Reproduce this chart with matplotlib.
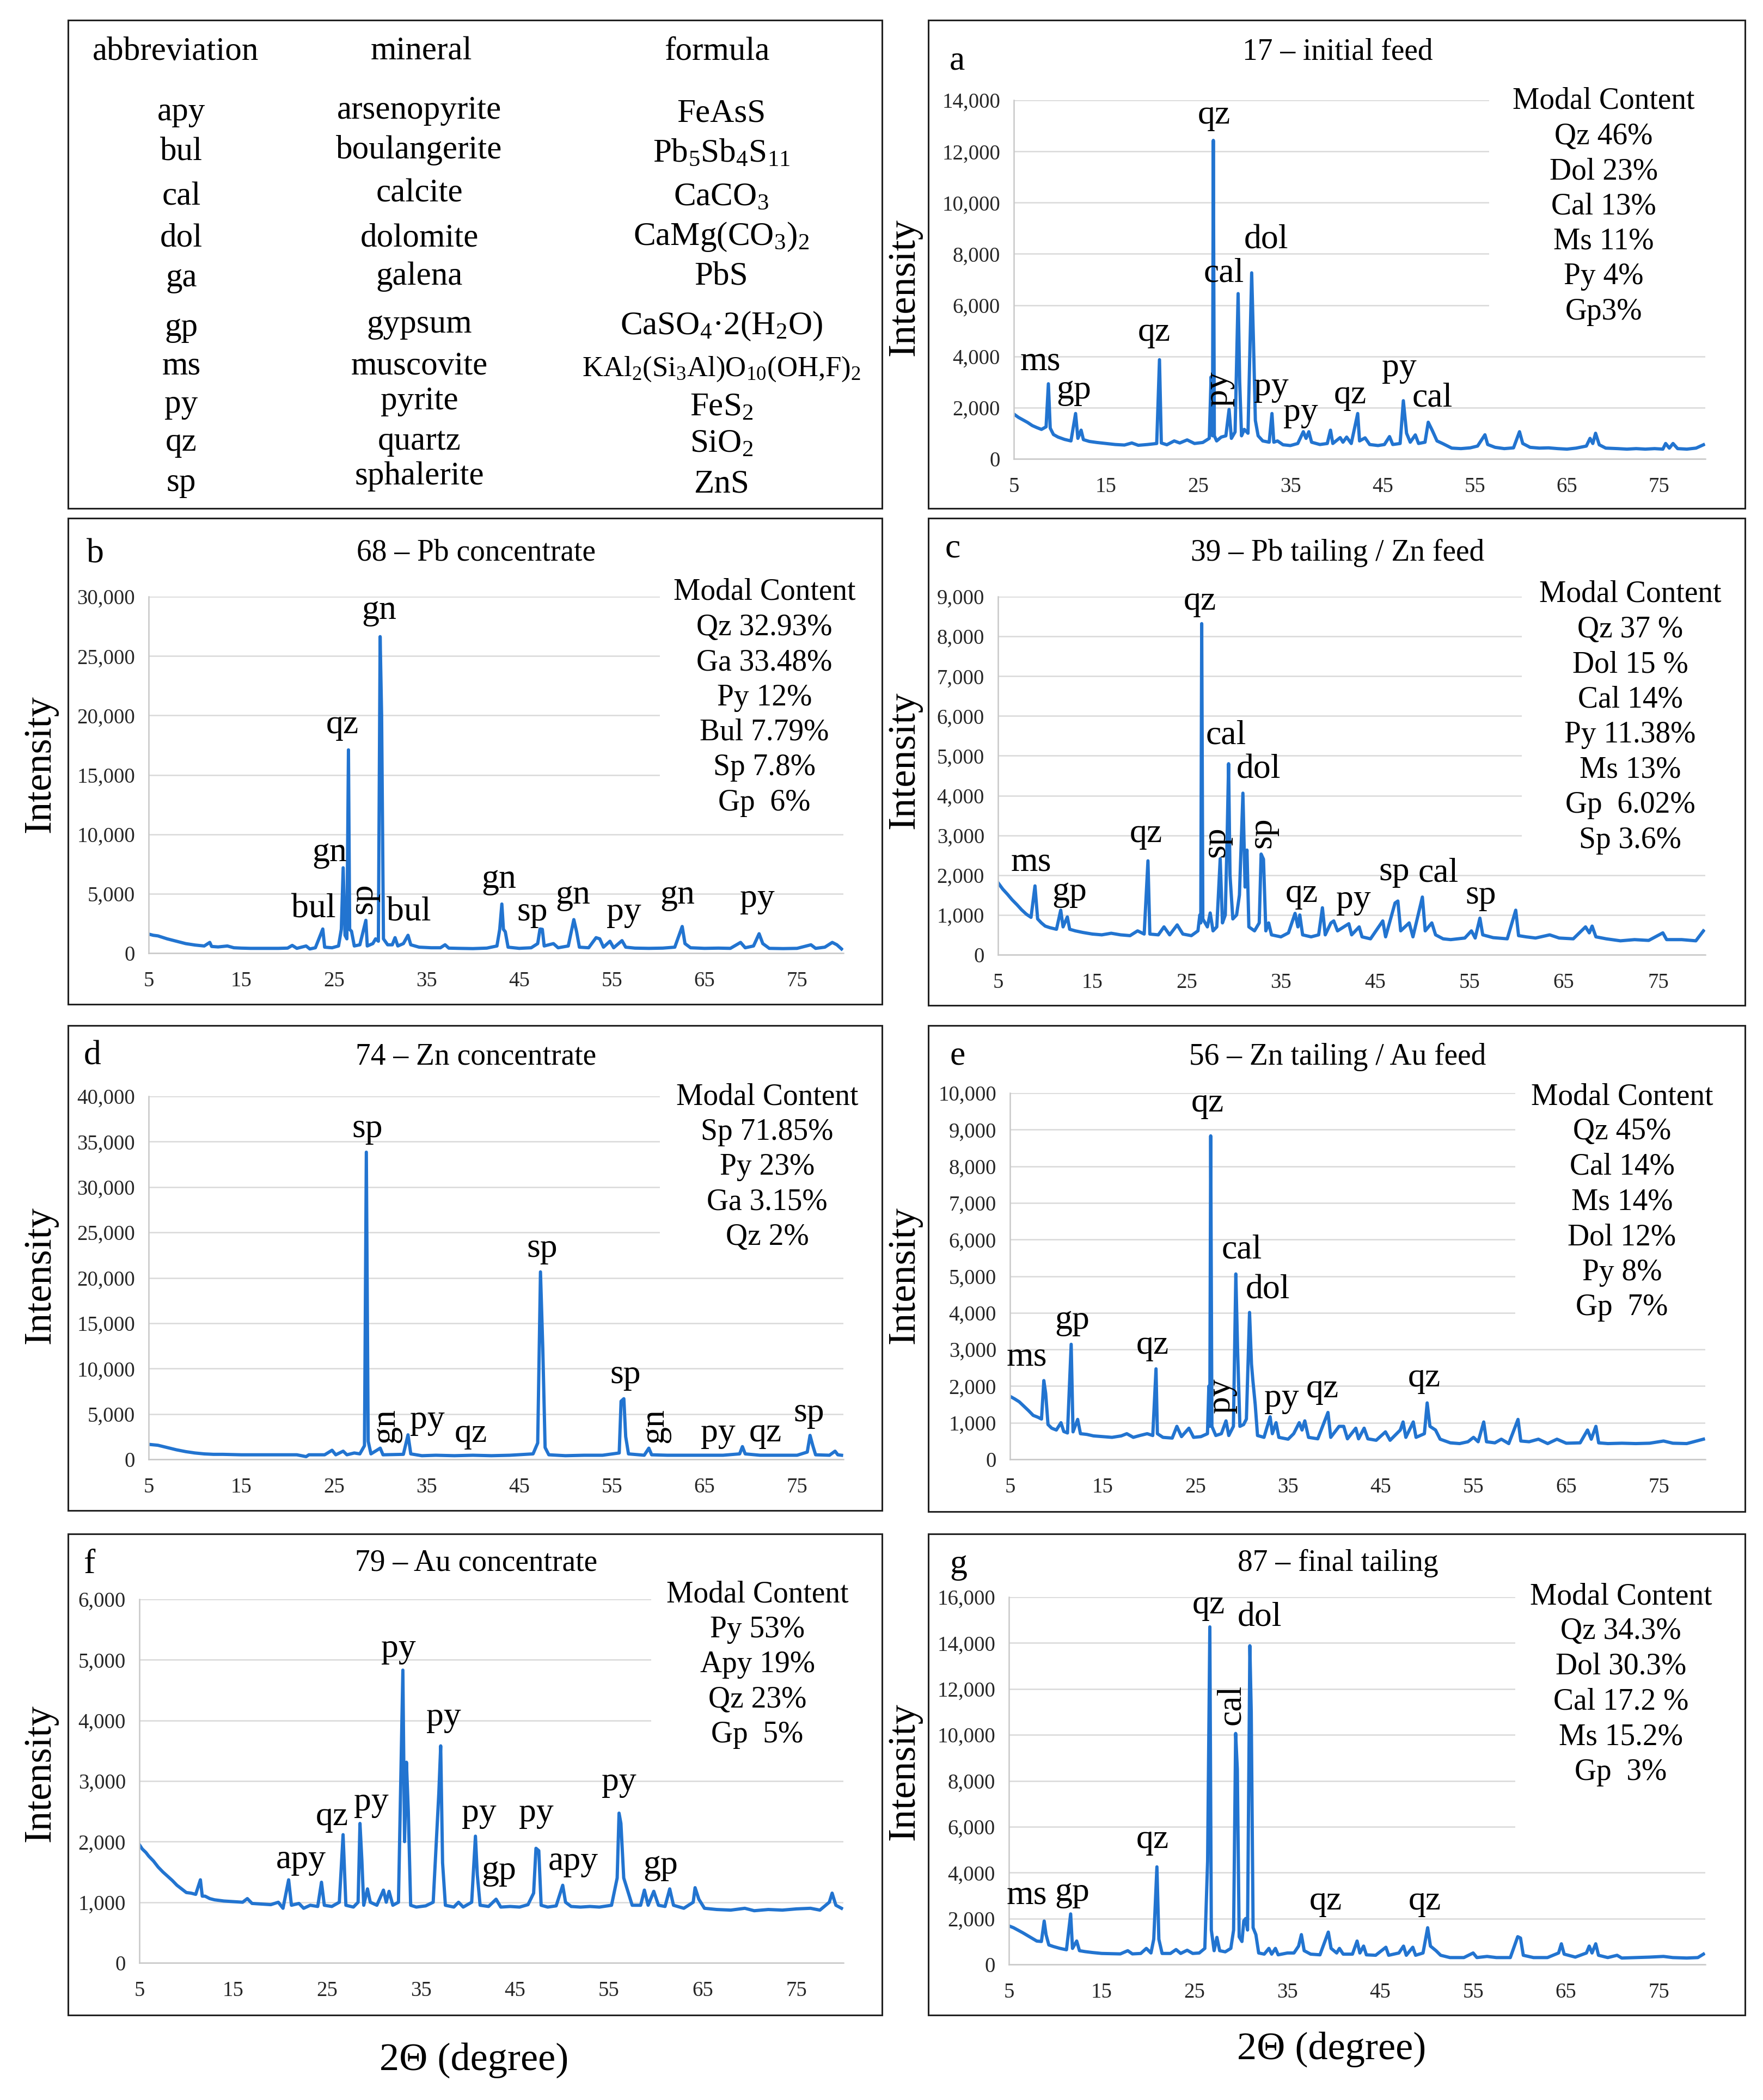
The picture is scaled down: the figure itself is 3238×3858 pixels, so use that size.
import matplotlib.pyplot as plt
from matplotlib.patches import Rectangle
from matplotlib.ticker import FixedLocator, FuncFormatter

plt.rcParams['font.family'] = ['Liberation Serif', 'DejaVu Serif']
plt.rcParams['mathtext.fontset'] = 'custom'
plt.rcParams['mathtext.rm'] = 'Liberation Serif'
plt.rcParams['mathtext.it'] = 'Liberation Serif:italic'

# ---- mineral table ----
abbrev = ["apy", "bul", "cal", "dol", "ga", "gp", "ms", "py", "qz", "sp"]
minerals = ["arsenopyrite", "boulangerite", "calcite", "dolomite", "galena",
            "gypsum", "muscovite", "pyrite", "quartz", "sphalerite"]
formulas = ["FeAsS",
            r"Pb$_{\mathregular{5}}$Sb$_{\mathregular{4}}$S$_{\mathregular{11}}$",
            r"CaCO$_{\mathregular{3}}$",
            r"CaMg(CO$_{\mathregular{3}}$)$_{\mathregular{2}}$",
            "PbS",
            r"CaSO$_{\mathregular{4}}$·2(H$_{\mathregular{2}}$O)",
            r"KAl$_{\mathregular{2}}$(Si$_{\mathregular{3}}$Al)O$_{\mathregular{10}}$(OH,F)$_{\mathregular{2}}$",
            r"FeS$_{\mathregular{2}}$",
            r"SiO$_{\mathregular{2}}$",
            "ZnS"]

x_ticks = [5, 15, 25, 35, 45, 55, 65, 75]

# ---- XRD patterns (2theta, intensity) ----
pat_a = [(5, 1750), (5.5, 1620), (6, 1520), (6.5, 1420), (7, 1300), (7.5, 1220), (8, 1150), (8.5, 1250),
         (8.75, 2930), (8.95, 1200), (9.3, 950), (9.8, 850), (10.5, 760), (11.2, 700), (11.7, 1770),
         (11.95, 800), (12.3, 1120), (12.55, 750), (13.2, 680), (14, 640), (15, 600), (16, 560), (17, 540),
         (17.8, 620), (18.5, 530), (19.5, 560), (20.5, 600), (20.8, 3870), (21.0, 620), (21.6, 550),
         (22.4, 700), (23.0, 620), (23.8, 740), (24.6, 600), (25.5, 640), (26.2, 800), (26.4, 3200),
         (26.55, 900), (26.64, 12430), (26.75, 900), (27.0, 700), (27.5, 850), (28.0, 900), (28.35, 1930),
         (28.6, 800), (29.0, 1050), (29.33, 6450), (29.5, 3000), (29.7, 900), (30.0, 1150), (30.4, 1000),
         (30.8, 7260), (31.0, 4500), (31.2, 1500), (31.5, 900), (32.0, 700), (32.7, 650), (33.0, 1770),
         (33.2, 650), (33.6, 700), (34.2, 550), (35.0, 520), (35.8, 600), (36.4, 1060), (36.7, 800),
         (37.0, 1060), (37.3, 650), (38.2, 560), (39.0, 600), (39.35, 1120), (39.6, 600), (40.4, 830),
         (40.7, 650), (41.1, 850), (41.6, 600), (42.3, 1770), (42.5, 700), (43.1, 820), (43.6, 560),
         (44.5, 520), (45.2, 560), (45.75, 870), (46.1, 560), (46.9, 600), (47.25, 2270), (47.6, 1000),
         (48.0, 650), (48.55, 935), (48.9, 600), (49.6, 650), (49.95, 1430), (50.4, 1100), (50.9, 700),
         (51.5, 600), (52.5, 420), (53.5, 400), (54.5, 430), (55.3, 500), (56.1, 940), (56.4, 560),
         (57.2, 450), (58.2, 400), (59.2, 430), (59.85, 1060), (60.2, 600), (61, 450), (62, 420), (63, 430),
         (64, 400), (65, 380), (66, 420), (67.1, 500), (67.5, 800), (67.8, 600), (68.1, 1000), (68.5, 550),
         (69.2, 420), (70.5, 400), (71.5, 380), (72.5, 400), (73.5, 380), (74.5, 400), (75.4, 380),
         (75.7, 600), (76.1, 420), (76.5, 600), (77, 400), (78, 380), (79, 420), (79.8, 550)]

pat_b = [(5, 1600), (5.5, 1500), (6, 1450), (7, 1200), (8, 1000), (9, 800), (10, 680), (11, 600),
         (11.6, 900), (11.8, 560), (12.5, 520), (13.5, 600), (14.2, 450), (15, 420), (16, 400), (17, 400),
         (18, 400), (19, 400), (20, 420), (20.5, 650), (21, 400), (22, 600), (22.4, 350), (23, 450),
         (23.8, 2030), (24.0, 500), (24.8, 450), (25.5, 600), (25.8, 2000), (26.0, 7180), (26.2, 1500),
         (26.4, 1200), (26.57, 17100), (26.7, 2000), (26.9, 1840), (27.2, 600), (27.8, 700), (28.45, 2760),
         (28.6, 600), (29.2, 800), (29.5, 1200), (29.8, 1000), (29.99, 26630), (30.15, 20000),
         (30.35, 1200), (30.8, 700), (31.3, 700), (31.6, 1300), (31.9, 600), (32.5, 800), (33.0, 1500),
         (33.3, 700), (34.2, 500), (35.5, 450), (36.5, 450), (37.0, 700), (37.4, 420), (38.5, 400),
         (40, 380), (41.5, 420), (42.6, 600), (42.9, 2000), (43.13, 4130), (43.3, 2000), (43.5, 1800),
         (43.8, 500), (45, 400), (46.3, 450), (47.0, 800), (47.25, 2030), (47.5, 2000), (47.7, 600),
         (48.7, 800), (49.2, 450), (50.3, 600), (50.9, 2820), (51.2, 1800), (51.5, 500), (52.5, 450),
         (53.3, 1300), (53.7, 1200), (54.1, 500), (54.8, 1000), (55.2, 450), (56.1, 1050), (56.5, 500),
         (57.5, 420), (59, 400), (60.5, 420), (61.8, 500), (62.6, 2240), (62.9, 800), (63.5, 450),
         (65, 400), (66.5, 420), (67.8, 400), (68.9, 900), (69.4, 450), (70.3, 600), (70.9, 1630),
         (71.3, 800), (72, 400), (73.5, 380), (75, 400), (76.5, 700), (77, 400), (78, 500), (78.8, 900),
         (79.3, 700), (79.8, 350)]

pat_c = [(5, 1810), (5.5, 1650), (6, 1520), (6.5, 1380), (7, 1260), (7.5, 1130), (8, 1020), (8.5, 940),
         (8.92, 1730), (9.2, 900), (9.6, 800), (10, 720), (10.5, 680), (11.2, 640), (11.65, 1120),
         (11.9, 700), (12.35, 950), (12.6, 640), (13.2, 600), (14, 560), (15, 520), (16, 500), (17, 540),
         (18, 500), (19, 480), (19.8, 600), (20.5, 520), (20.9, 2360), (21.1, 520), (22, 500), (22.6, 700),
         (23.2, 500), (24.0, 750), (24.6, 520), (25.5, 480), (26.2, 600), (26.4, 1000), (26.5, 800),
         (26.6, 8320), (26.72, 900), (27.2, 700), (27.5, 1050), (27.8, 600), (28.2, 700), (28.56, 2410),
         (28.8, 800), (29.1, 1000), (29.3, 3000), (29.45, 4800), (29.6, 2000), (29.9, 900), (30.3, 1000),
         (30.6, 1500), (30.97, 4060), (31.2, 1700), (31.4, 2630), (31.6, 700), (32.2, 600), (32.7, 800),
         (32.9, 2530), (33.15, 2400), (33.4, 600), (33.7, 800), (34.0, 500), (35, 450), (35.8, 550),
         (36.5, 1040), (36.8, 700), (37.0, 1000), (37.3, 500), (38.2, 450), (39.0, 500), (39.4, 1180),
         (39.7, 500), (40.3, 800), (40.6, 850), (41.0, 600), (42.2, 780), (42.5, 500), (43.3, 700),
         (43.6, 450), (44.5, 400), (45.8, 850), (46.1, 450), (47.1, 1300), (47.4, 1350), (47.7, 600),
         (48.6, 800), (49.0, 450), (50.0, 1450), (50.3, 600), (51.0, 800), (51.4, 500), (52.2, 400),
         (53, 380), (54.5, 420), (55.2, 600), (55.6, 420), (56.1, 920), (56.4, 500), (57.5, 430), (59, 400),
         (59.9, 1120), (60.2, 480), (61, 450), (62, 420), (63.5, 500), (64.5, 420), (66, 400), (67.3, 700),
         (67.7, 550), (68.0, 720), (68.4, 450), (69.5, 400), (71, 350), (72.5, 380), (74, 360), (75.5, 550),
         (75.9, 380), (77.5, 380), (79, 350), (79.8, 600)]

pat_d = [(5, 1650), (6, 1550), (7, 1300), (8, 1050), (9, 850), (10, 700), (11, 600), (12, 550), (13, 550),
         (15, 500), (17, 500), (19, 500), (21, 500), (22, 300), (22.3, 500), (24, 500), (24.8, 1000),
         (25.2, 500), (26.0, 900), (26.4, 500), (27.2, 700), (27.8, 600), (28.3, 1500), (28.5, 33840),
         (28.7, 2000), (29.0, 600), (30.0, 1230), (30.3, 500), (32.5, 550), (33.0, 2700), (33.3, 600),
         (34.5, 400), (36, 450), (38, 400), (40, 450), (42, 400), (44, 450), (46.5, 600), (47.0, 1800),
         (47.3, 20650), (47.55, 12200), (47.8, 1300), (48.2, 500), (50, 400), (52, 450), (54, 450),
         (55.8, 700), (56.0, 6400), (56.3, 6680), (56.5, 2500), (56.8, 600), (58.5, 450), (59.0, 1230),
         (59.3, 500), (61, 450), (63, 450), (65, 450), (67, 450), (68.8, 600), (69.1, 1400), (69.4, 600),
         (71, 450), (73, 450), (75, 450), (76.1, 800), (76.4, 2640), (76.7, 1500), (77, 500), (78.5, 450),
         (79.1, 900), (79.4, 500), (79.8, 450)]

pat_e = [(5, 1720), (5.5, 1650), (6, 1570), (6.5, 1450), (7, 1330), (7.5, 1200), (8, 1150), (8.4, 1100),
         (8.65, 2150), (8.85, 1800), (9.1, 950), (9.5, 850), (10, 800), (10.5, 1000), (10.8, 760),
         (11.2, 720), (11.6, 3140), (11.8, 750), (12.3, 1090), (12.6, 700), (13.3, 680), (14, 640),
         (15, 620), (16, 600), (17, 640), (17.6, 700), (18.3, 600), (19, 650), (19.8, 700), (20.4, 650),
         (20.75, 2470), (20.9, 700), (21.5, 600), (22.5, 580), (23.0, 900), (23.5, 620), (24.3, 850),
         (24.8, 600), (25.6, 620), (26.3, 700), (26.45, 2000), (26.55, 900), (26.65, 8830), (26.78, 900),
         (27.2, 650), (27.8, 700), (28.3, 1050), (28.6, 650), (29.1, 900), (29.36, 5060), (29.55, 3000),
         (29.8, 900), (30.2, 950), (30.5, 1100), (30.84, 4010), (31.05, 2600), (31.2, 2150), (31.45, 1500),
         (31.7, 650), (32.4, 600), (33.06, 1160), (33.3, 700), (33.7, 1000), (34.0, 600), (35, 550),
         (35.6, 700), (36.2, 1000), (36.5, 800), (36.8, 1050), (37.2, 600), (38.2, 560), (39.3, 1280),
         (39.6, 600), (40.5, 900), (41.0, 900), (41.4, 560), (42.3, 850), (42.6, 560), (43.2, 850),
         (43.6, 560), (44.5, 520), (45.5, 750), (46.0, 520), (47.1, 800), (47.4, 1020), (47.7, 600),
         (48.5, 1020), (48.8, 600), (49.7, 700), (50.0, 1540), (50.3, 900), (50.9, 800), (51.4, 550),
         (52.5, 450), (53.5, 430), (54.4, 480), (55.0, 600), (55.5, 480), (56.1, 1020), (56.4, 480),
         (57.3, 450), (58, 550), (58.8, 430), (59.8, 1090), (60.1, 500), (61, 480), (62, 550), (63, 430),
         (64, 550), (65, 440), (66.5, 450), (67.3, 800), (67.7, 550), (68.2, 900), (68.5, 450), (69.5, 430),
         (71, 440), (72.5, 430), (74, 440), (75.5, 500), (76.5, 440), (78, 430), (79.8, 550)]

pat_f = [(5, 1950), (5.3, 1880), (5.7, 1820), (6, 1760), (6.5, 1680), (7, 1580), (7.5, 1500), (8, 1430),
         (8.5, 1360), (9, 1280), (9.5, 1220), (10, 1160), (10.5, 1150), (11, 1130), (11.5, 1370),
         (11.7, 1100), (12, 1100), (12.5, 1060), (13, 1040), (14, 1020), (15, 1010), (16, 1000),
         (16.5, 1060), (17, 980), (18, 970), (19, 960), (19.8, 1000), (20.3, 900), (20.9, 1370),
         (21.2, 950), (22, 980), (22.5, 900), (23.2, 950), (24.0, 930), (24.4, 1330), (24.7, 950),
         (25.5, 930), (26.3, 1000), (26.7, 2115), (27.0, 950), (27.8, 920), (28.3, 1000), (28.5, 2300),
         (28.7, 1700), (28.9, 950), (29.3, 1220), (29.6, 1000), (30.3, 950), (31.0, 1200), (31.3, 1000),
         (31.6, 1180), (32.0, 950), (32.6, 1000), (33.07, 4830), (33.25, 2000), (33.45, 3310),
         (33.65, 2500), (33.9, 950), (34.5, 920), (35.5, 940), (36.3, 1000), (36.9, 2800), (37.1, 3580),
         (37.3, 1650), (37.6, 950), (38.5, 920), (39.0, 1000), (39.5, 920), (40.4, 1000), (40.8, 2090),
         (41.0, 1450), (41.3, 950), (42.2, 930), (43.0, 1050), (43.5, 920), (44.5, 930), (45.5, 920),
         (46.4, 960), (47.0, 1150), (47.25, 1890), (47.55, 1850), (47.8, 950), (48.5, 920), (49.4, 940),
         (50.1, 1280), (50.4, 1000), (51, 930), (52, 920), (53, 930), (54, 920), (55.3, 950), (55.9, 1400),
         (56.1, 2470), (56.3, 2300), (56.6, 1400), (57.0, 1200), (57.5, 950), (58.4, 950), (58.8, 1200),
         (59.2, 950), (59.8, 1180), (60.3, 950), (61.0, 930), (61.5, 1220), (61.9, 950), (63.0, 900),
         (64.0, 1000), (64.2, 1240), (64.6, 1050), (65.2, 900), (66.5, 880), (68, 870), (69.5, 900),
         (70.5, 860), (72, 880), (73.5, 870), (75, 890), (76.5, 900), (77.5, 870), (78.5, 1000),
         (78.8, 1150), (79.2, 950), (79.8, 900)]

pat_g = [(5, 1680), (5.5, 1600), (6, 1490), (6.5, 1380), (7, 1260), (7.5, 1140), (8, 1020), (8.5, 1000),
         (8.8, 1890), (9.0, 1300), (9.3, 850), (9.8, 780), (10.5, 700), (11.2, 640), (11.65, 2200),
         (11.85, 700), (12.3, 1020), (12.6, 600), (13.2, 560), (14, 520), (15, 480), (16, 470), (17, 460),
         (17.8, 600), (18.3, 460), (19.2, 480), (19.8, 700), (20.3, 500), (20.6, 1100), (20.94, 4250),
         (21.15, 1100), (21.5, 480), (22.4, 480), (23.0, 650), (23.5, 480), (24.2, 620), (24.8, 480),
         (25.5, 500), (26.1, 700), (26.4, 4500), (26.64, 14700), (26.8, 1500), (27.1, 600), (27.4, 1180),
         (27.7, 600), (28.3, 550), (28.9, 700), (29.2, 1500), (29.42, 10060), (29.6, 8500), (29.8, 1200),
         (30.1, 1000), (30.3, 1900), (30.5, 2000), (30.7, 1500), (30.95, 13880), (31.1, 11000),
         (31.3, 1600), (31.6, 1300), (31.9, 500), (32.5, 450), (33.0, 700), (33.3, 450), (33.7, 700),
         (34.0, 420), (35.0, 500), (35.7, 500), (36.2, 800), (36.5, 1300), (36.8, 600), (37.5, 450),
         (38.5, 420), (39.4, 1410), (39.7, 700), (40.3, 500), (40.6, 700), (41.0, 450), (42.0, 450),
         (42.5, 1020), (42.8, 500), (43.2, 800), (43.5, 420), (44.5, 400), (45.6, 750), (45.9, 400),
         (47.0, 500), (47.5, 800), (47.8, 400), (48.5, 750), (48.8, 400), (49.6, 500), (50.1, 1600),
         (50.4, 800), (51.0, 600), (51.5, 400), (52.5, 300), (54, 300), (55.0, 500), (55.4, 300),
         (56.5, 350), (57.5, 300), (59.0, 300), (59.8, 1210), (60.1, 1150), (60.4, 400), (61.5, 300),
         (63, 300), (64.2, 500), (64.5, 900), (64.8, 450), (66, 320), (67.2, 500), (67.5, 800), (67.8, 500),
         (68.2, 900), (68.5, 400), (69.5, 300), (70.5, 400), (71, 280), (72.5, 300), (74, 320), (75.5, 350),
         (76.5, 300), (78, 280), (79.2, 300), (79.8, 450)]

# ---- peak labels (text, 2theta, intensity, rotation) ----
lab_a = [("qz", 26.75, 13400, 0), ("dol", 32.4, 8540, 0), ("cal", 27.8, 7230, 0), ("qz", 20.2, 4925, 0),
         ("ms", 7.9, 3800, 0), ("gp", 11.5, 2680, 0), ("py", 27.2, 2740, 90), ("py", 32.9, 2800, 0),
         ("py", 36.1, 1810, 0), ("qz", 41.5, 2490, 0), ("py", 46.8, 3550, 0), ("cal", 50.4, 2370, 0)]
lab_b = [("gn", 29.9, 28800, 0), ("qz", 25.9, 19200, 0), ("gn", 24.5, 8420, 0), ("bul", 22.8, 3680, 0),
         ("sp", 28.2, 4600, 90), ("bul", 33.1, 3420, 0), ("gn", 42.8, 6180, 0), ("sp", 46.4, 3420, 0),
         ("gn", 50.8, 4870, 0), ("py", 56.3, 3420, 0), ("gn", 62.1, 4870, 0), ("py", 70.7, 4600, 0)]
lab_c = [("qz", 26.4, 8880, 0), ("cal", 29.2, 5500, 0), ("dol", 32.6, 4640, 0), ("qz", 20.7, 3030, 0),
         ("sp", 28.1, 2830, 90), ("sp", 33.0, 3070, 90), ("ms", 8.5, 2320, 0), ("gp", 12.55, 1570, 0),
         ("qz", 37.2, 1530, 0), ("py", 42.7, 1380, 0), ("sp", 47.0, 2080, 0), ("cal", 51.7, 2040, 0),
         ("sp", 56.2, 1490, 0)]
lab_d = [("sp", 28.6, 36400, 0), ("sp", 47.5, 23200, 0), ("sp", 56.5, 9320, 0), ("gn", 30.6, 3690, 90),
         ("py", 35.1, 4300, 0), ("qz", 39.8, 2800, 0), ("gn", 59.6, 3690, 90), ("py", 66.5, 2900, 0),
         ("qz", 71.6, 2900, 0), ("sp", 76.3, 5100, 0)]
lab_e = [("qz", 26.3, 9720, 0), ("cal", 30.0, 5710, 0), ("dol", 32.8, 4620, 0), ("gp", 11.7, 3790, 0),
         ("qz", 20.4, 3100, 0), ("ms", 6.8, 2790, 0), ("py", 27.8, 1740, 90), ("py", 34.3, 1660, 0),
         ("qz", 38.7, 1920, 0), ("qz", 49.7, 2220, 0)]
lab_f = [("py", 32.6, 5185, 0), ("py", 37.4, 4050, 0), ("py", 29.7, 2650, 0), ("qz", 25.5, 2410, 0),
         ("apy", 22.2, 1700, 0), ("py", 41.2, 2470, 0), ("gp", 43.3, 1520, 0), ("py", 47.3, 2470, 0),
         ("apy", 51.2, 1670, 0), ("py", 56.1, 2980, 0), ("gp", 60.5, 1610, 0)]
lab_g = [("qz", 26.5, 15650, 0), ("dol", 32.0, 15090, 0), ("cal", 29.0, 11320, 90), ("qz", 20.5, 5420, 0),
         ("ms", 6.9, 2990, 0), ("gp", 11.8, 3140, 0), ("qz", 39.1, 2750, 0), ("qz", 49.8, 2750, 0)]

# ---- modal content ----
mod_a = ["Qz 46%", "Dol 23%", "Cal 13%", "Ms 11%", "Py 4%", "Gp3%"]
mod_b = ["Qz 32.93%", "Ga 33.48%", "Py 12%", "Bul 7.79%", "Sp 7.8%", "Gp  6%"]
mod_c = ["Qz 37 %", "Dol 15 %", "Cal 14%", "Py 11.38%", "Ms 13%", "Gp  6.02%", "Sp 3.6%"]
mod_d = ["Sp 71.85%", "Py 23%", "Ga 3.15%", "Qz 2%"]
mod_e = ["Qz 45%", "Cal 14%", "Ms 14%", "Dol 12%", "Py 8%", "Gp  7%"]
mod_f = ["Py 53%", "Apy 19%", "Qz 23%", "Gp  5%"]
mod_g = ["Qz 34.3%", "Dol 30.3%", "Cal 17.2 %", "Ms 15.2%", "Gp  3%"]

W, H = 3238, 3858
BLUE = '#2274d0'
fig = plt.figure(figsize=(W / 100, H / 100), dpi=100)


def fx(px):
    return px / W


def fy(py):
    return 1 - py / H


def frame(x0, y0, x1, y1):
    fig.add_artist(Rectangle((fx(x0), fy(y1)), (x1 - x0) / W, (y1 - y0) / H, transform=fig.transFigure,
                             fill=False, edgecolor='#222222', lw=2.2))


# table
frame(125, 37, 1620, 934)
for txt, xc in zip(["abbreviation", "mineral", "formula"], [323, 774, 1317]):
    fig.text(fx(xc), fy(95), txt, fontsize=44, ha='center', va='center')
ab_y = [206, 279, 362, 438, 511, 602, 673, 743, 813, 887]
mi_y = [203, 276, 356, 438, 508, 596, 673, 737, 811, 875]
fo_y = [209, 282, 362, 435, 508, 599, 678, 749, 816, 890]
for i in range(len(abbrev)):
    fig.text(fx(333), fy(ab_y[i]), abbrev[i], fontsize=44, ha='center', va='center')
    fig.text(fx(770), fy(mi_y[i]), minerals[i], fontsize=44, ha='center', va='center')
    fs = 38 if i == 6 else 44
    fig.text(fx(1325), fy(fo_y[i]), formulas[i], fontsize=fs, ha='center', va='center')

# layout per panel: box, axes (L, R, top, bottom), title, letter, modal, white cover, ylabel
panels = [
    dict(letter='a', title='17 – initial feed', data=pat_a, labels=lab_a, modal=mod_a, ymax=14000, ystep=2000,
         box=(1705, 37, 3205, 934), ax=(1862, 3132, 184, 843), tb=109, lb=127, lx=1744,
         mx=2945, my=186, cover=(2735, 600), ylab=(1661, 528), xlab=None),
    dict(letter='b', title='68 – Pb concentrate', data=pat_b, labels=lab_b, modal=mod_b, ymax=30000, ystep=5000,
         box=(125, 952, 1620, 1845), ax=(273, 1549, 1096, 1751), tb=1030, lb=1034, lx=159,
         mx=1404, my=1088, cover=(1212, 1480), ylab=(74, 1404), xlab=None),
    dict(letter='c', title='39 – Pb tailing / Zn feed', data=pat_c, labels=lab_c, modal=mod_c, ymax=9000, ystep=1000,
         box=(1705, 952, 3205, 1847), ax=(1833, 3132, 1096, 1754), tb=1030, lb=1024, lx=1736,
         mx=2994, my=1092, cover=(2795, 1575), ylab=(1661, 1397), xlab=None),
    dict(letter='d', title='74 – Zn concentrate', data=pat_d, labels=lab_d, modal=mod_d, ymax=40000, ystep=5000,
         box=(125, 1884, 1620, 2775), ax=(273, 1549, 2014, 2681), tb=1956, lb=1956, lx=154,
         mx=1409, my=2015, cover=(1212, 2300), ylab=(74, 2343), xlab=None),
    dict(letter='e', title='56 – Zn tailing / Au feed', data=pat_e, labels=lab_e, modal=mod_e, ymax=10000, ystep=1000,
         box=(1705, 1884, 3205, 2777), ax=(1855, 3132, 2008, 2681), tb=1956, lb=1956, lx=1744,
         mx=2979, my=2015, cover=(2783, 2445), ylab=(1661, 2343), xlab=None),
    dict(letter='f', title='79 – Au concentrate', data=pat_f, labels=lab_f, modal=mod_f, ymax=6000, ystep=1000,
         box=(125, 2818, 1620, 3702), ax=(256, 1549, 2938, 3606), tb=2886, lb=2890, lx=154,
         mx=1391, my=2929, cover=(1196, 3210), ylab=(74, 3258), xlab=(871, 3785)),
    dict(letter='g', title='87 – final tailing', data=pat_g, labels=lab_g, modal=mod_g, ymax=16000, ystep=2000,
         box=(1705, 2818, 3205, 3702), ax=(1853, 3132, 2934, 3609), tb=2886, lb=2890, lx=1744,
         mx=2977, my=2933, cover=(2783, 3400), ylab=(1661, 3255), xlab=(2446, 3765)),
]

for p in panels:
    frame(*p['box'])
    L, R, T, B = p['ax']
    ax = fig.add_axes([fx(L), fy(B), (R - L) / W, (B - T) / H])
    xs = [q[0] for q in p['data']]
    ys = [q[1] for q in p['data']]
    ax.plot(xs, ys, color=BLUE, lw=4.3, zorder=2)
    ax.set_xlim(5, 80)
    ax.set_ylim(0, p['ymax'])
    ax.xaxis.set_major_locator(FixedLocator(x_ticks))
    yt = [v for v in range(0, p['ymax'] + 1, p['ystep'])]
    ax.yaxis.set_major_locator(FixedLocator(yt))
    ax.yaxis.set_major_formatter(FuncFormatter(lambda v, pos: f'{v:,.0f}'))
    ax.tick_params(axis='both', length=0, labelsize=28, labelcolor='#262626')
    ax.tick_params(axis='x', pad=24)
    ax.tick_params(axis='y', pad=18)
    ax.yaxis.grid(True, color='#d9d9d9', lw=1.8)
    ax.xaxis.grid(False)
    for s in ['top', 'right']:
        ax.spines[s].set_visible(False)
    for s in ['left', 'bottom']:
        ax.spines[s].set_color('#c8c8c8')
        ax.spines[s].set_linewidth(1.8)
    # white box behind the modal content text
    cx, cb = p['cover']
    ax.add_patch(Rectangle((fx(cx), fy(cb)), (R - cx + 10) / W, (cb - T + 10) / H, transform=fig.transFigure,
                           facecolor='white', edgecolor='none', zorder=1.8))
    for txt, x, y, rot in p['labels']:
        ax.text(x, y, txt, fontsize=46, ha='center', va='center', rotation=rot, zorder=3)

    fig.text(fx(p['lx']), fy(p['lb']), p['letter'], fontsize=46, ha='left', va='baseline')
    fig.text(fx((p['box'][0] + p['box'][2]) / 2 + 2), fy(p['tb']), p['title'], fontsize=40, ha='center', va='baseline')
    fig.text(fx(p['mx']), fy(p['my']), 'Modal Content', fontsize=40, ha='center', va='center')
    for k, line in enumerate(p['modal']):
        fig.text(fx(p['mx']), fy(p['my'] + 64.5 * (k + 1)), line, fontsize=40, ha='center', va='center')
    fig.text(fx(p['ylab'][0]), fy(p['ylab'][1]), 'Intensity', fontsize=52, rotation=90, ha='center', va='center')
    if p['xlab']:
        fig.text(fx(p['xlab'][0]), fy(p['xlab'][1]), '2Θ (degree)', fontsize=52, ha='center', va='center')

fig.savefig('out.png', dpi=100, facecolor='white')
